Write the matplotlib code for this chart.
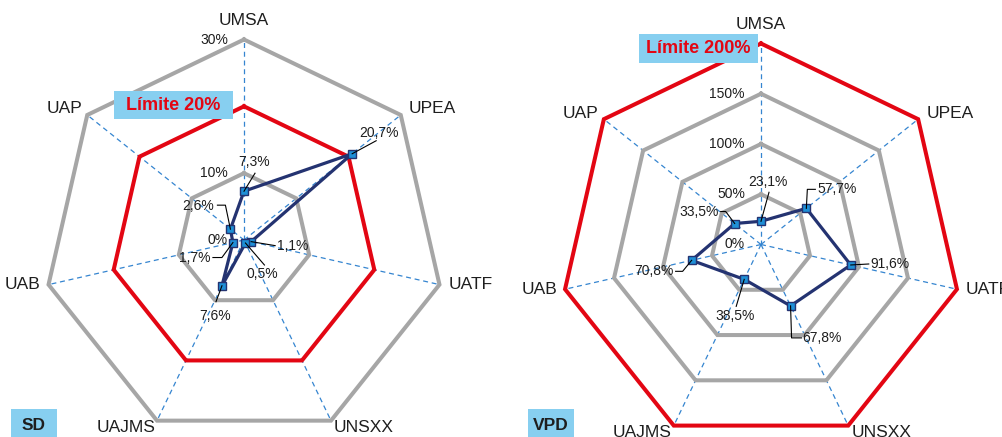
import numpy as np
import matplotlib
matplotlib.use('Agg')
import matplotlib.pyplot as plt
from matplotlib.lines import Line2D
from matplotlib.patches import Rectangle

plt.rcParams['font.family'] = ['Liberation Sans', 'DejaVu Sans']

# ---------------- data ----------------
categories = ['UMSA', 'UPEA', 'UATF', 'UNSXX', 'UAJMS', 'UAB', 'UAP']
sd_values = [7.3, 20.7, 1.1, 0.5, 7.6, 1.7, 2.6]
vpd_values = [23.1, 57.7, 91.6, 67.8, 38.5, 70.8, 33.5]
sd_rings = [0, 10, 20, 30]
vpd_rings = [0, 50, 100, 150, 200]
sd_limit = 20
vpd_limit = 200
sd_title = 'SD'
vpd_title = 'VPD'
sd_limit_text = 'Límite 20%'
vpd_limit_text = 'Límite 200%'

# ---------------- style ----------------
W, H = 1002, 437
GREY = '#a6a6a6'
RED = '#e30613'
NAVY = '#243371'
MFACE = '#1f8fd6'
SPOKE = '#3585d0'
BOXC = '#87cff0'
TXT = '#1e1e1e'

fig = plt.figure(figsize=(W / 100, H / 100), dpi=100)
fig.patch.set_facecolor('white')

n = len(categories)
theta = np.arange(n) * 2 * np.pi / n
theta_c = np.append(theta, theta[0])

# category label offsets (pixels, y down) and alignment
cat_off = [(0, -19, 'center'), (8, -6, 'left'), (9, 0, 'left'), (3, 7, 'left'),
           (-2, 7, 'right'), (-8, 0, 'right'), (-5, -6, 'right')]

# data label layout: leader polyline offsets from point (px, y down), text anchor & alignment
sd_lab = [
    dict(lead=[(11, -18)], txt=(10, -29), ha='center'),
    dict(lead=[(24, -13)], txt=(27, -21), ha='center'),
    dict(lead=[(24, 4)], txt=(26, 4), ha='left'),
    dict(lead=[(19, 22)], txt=(17, 31), ha='center'),
    dict(lead=[(-6, 16)], txt=(-7, 30), ha='center'),
    dict(lead=[(-11, 15), (-20, 15)], txt=(-22, 15), ha='right'),
    dict(lead=[(-5, -24), (-13, -24)], txt=(-16, -23), ha='right'),
]
vpd_lab = [
    dict(lead=[(8, -29)], txt=(7, -39), ha='center'),
    dict(lead=[(1, -19), (9, -19)], txt=(11, -19), ha='left'),
    dict(lead=[(18, -1)], txt=(20, -1), ha='left'),
    dict(lead=[(1, 32), (11, 32)], txt=(12, 32), ha='left'),
    dict(lead=[(-8, 27)], txt=(-9, 37), ha='center'),
    dict(lead=[(-9, 11), (-16, 11)], txt=(-18, 11), ha='right'),
    dict(lead=[(-9, -12), (-14, -12)], txt=(-16, -12), ha='right'),
]


def fmt(v):
    return f'{v:.1f}'.replace('.', ',') + '%'


def radar(cx, cy, rad, values, rings, limit, labs, limit_box, limit_text, title, title_box):
    # cx, cy, rad in pixels (y down)
    ax = fig.add_axes([(cx - rad) / W, (H - cy - rad) / H, 2 * rad / W, 2 * rad / H],
                      projection='polar')
    ax.set_theta_zero_location('N')
    ax.set_theta_direction(-1)
    rmax = rings[-1]
    ax.set_ylim(0, rmax)
    ax.set_axis_off()

    # spokes
    for t in theta:
        ax.plot([t, t], [0, rmax], color=SPOKE, lw=0.9, dashes=(4, 3), zorder=1, clip_on=False)
    # rings
    for r in rings[1:]:
        c = RED if r == limit else GREY
        ax.plot(theta_c, [r] * (n + 1), color=c, lw=2.9, zorder=2 if c == GREY else 3,
                solid_joinstyle='miter', clip_on=False)
    # ring labels (the limit ring's label is covered by the limit box)
    for r in rings:
        if r == limit:
            continue
        ax.annotate(f'{r}%', xy=(0, r), xytext=(-16, 0), textcoords='offset pixels',
                    ha='right', va='center', fontsize=10, color=TXT, zorder=6,
                    annotation_clip=False)
    # data
    vals = list(values) + [values[0]]
    ax.plot(theta_c, vals, color=NAVY, lw=2.3, zorder=5, clip_on=False,
            solid_joinstyle='round')
    ax.plot(theta, values, ls='none', marker='s', ms=6, mfc=MFACE, mec=NAVY, mew=1.0,
            zorder=6, clip_on=False)

    # category labels
    for t, name, (dx, dy, ha) in zip(theta, categories, cat_off):
        ax.annotate(name, xy=(t, rmax), xytext=(dx, -dy), textcoords='offset pixels',
                    ha=ha, va='center', fontsize=12.5, color=TXT, annotation_clip=False)

    # data labels and leaders
    for t, v, lab in zip(theta, values, labs):
        px, py = ax.transData.transform((t, v))
        xs = [px] + [px + dx for dx, dy in lab['lead']]
        ys = [py] + [py - dy for dx, dy in lab['lead']]
        fig.add_artist(Line2D(xs, ys, transform=None, color='black', lw=0.8, zorder=7))
        tx, ty = lab['txt']
        ax.annotate(fmt(v), xy=(t, v), xytext=(tx, -ty), textcoords='offset pixels',
                    ha=lab['ha'], va='center', fontsize=10, color=TXT, zorder=8,
                    annotation_clip=False)

    # limit box
    x0, y0, x1, y1 = limit_box
    fig.add_artist(Rectangle((x0 / W, 1 - y1 / H), (x1 - x0) / W, (y1 - y0) / H,
                             transform=fig.transFigure, facecolor=BOXC, edgecolor='none',
                             zorder=10))
    fig.text((x0 + x1) / 2 / W, 1 - (y0 + y1) / 2 / H, limit_text, ha='center', va='center',
             fontsize=13, fontweight='bold', color=RED, zorder=11)
    # title box
    x0, y0, x1, y1 = title_box
    fig.add_artist(Rectangle((x0 / W, 1 - y1 / H), (x1 - x0) / W, (y1 - y0) / H,
                             transform=fig.transFigure, facecolor=BOXC, edgecolor='none',
                             zorder=10))
    fig.text((x0 + x1) / 2 / W, 1 - (y0 + y1) / 2 / H - 0.003, title, ha='center', va='center',
             fontsize=12.5, fontweight='bold', color=TXT, zorder=11)
    return ax


radar(244, 240, 200.5, sd_values, sd_rings, sd_limit, sd_lab,
      (114, 91, 233, 119), sd_limit_text, sd_title, (11, 409, 57, 440))
radar(761, 244.5, 201, vpd_values, vpd_rings, vpd_limit, vpd_lab,
      (639, 34, 758, 63), vpd_limit_text, vpd_title, (528, 409, 574, 440))

fig.savefig('out.png', dpi=100)
